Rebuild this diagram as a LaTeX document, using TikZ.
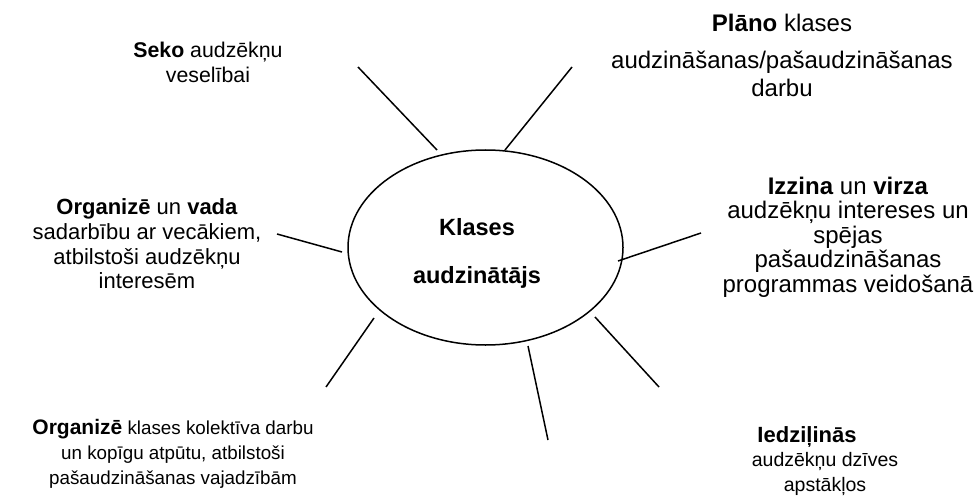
\documentclass[tikz,border=0pt]{standalone}
\usepackage{fontspec}
\setmainfont{Liberation Sans}
\usetikzlibrary{shapes.geometric}
\newcommand{\fs}[2]{\fontsize{#1}{#2}\selectfont}
\begin{document}
\begin{tikzpicture}[x=1pt,y=-1pt,
  lbl/.style={align=center,inner sep=0pt},
  spoke/.style={draw,line width=1.5pt},
  hub/.style={draw,ellipse,line width=1.5pt,minimum width=275pt,minimum height=195pt,inner sep=0pt}]
\useasboundingbox (0,0) rectangle (979,497);

% central ellipse and its title
\node[hub] (hub) at (485.5,247.5) {};
\node[lbl,font=\bfseries\fs{23.5}{28}] (t1) at (477,227) {Klases};
\node[lbl,font=\bfseries\fs{23.5}{28}] (t2) at (477,277) {audzinātājs};

% surrounding captions
\node[lbl,font=\fs{21.3}{25}] (seko) at (208,62) {\textbf{Seko} audzēkņu\\veselībai};
\node[lbl,font=\fs{24}{28}] (plano1) at (782,23) {\textbf{Plāno} klases};
\node[lbl,font=\fs{24}{28}] (plano2) at (782,74) {audzināšanas/pašaudzināšanas\\darbu};
\node[lbl,font=\fs{24}{24.5}] (izzina) at (848,237) {\textbf{Izzina} un \textbf{virza}\\audzēkņu intereses un\\spējas\\pašaudzināšanas\\programmas veidošanā};
\node[lbl,font=\fs{22}{24.7}] (vada) at (147,244) {\textbf{Organizē} un \textbf{vada}\\sadarbību ar vecākiem,\\atbilstoši audzēkņu\\interesēm};
\node[lbl,font=\fs{18.8}{25}] (kolektivs) at (173,454) {{\fs{21}{25}\textbf{Organizē}} klases kolektīva darbu\\un kopīgu atpūtu, atbilstoši\\pašaudzināšanas vajadzībām};
\node[lbl,font=\fs{19.5}{24.5}] (iedz) at (825,461) {{\fs{22}{24.5}\textbf{Iedziļinās}}\hspace*{36pt}\\audzēkņu dzīves\\apstākļos};

% spoke end points
\coordinate (a1) at (358,67);  \coordinate (a2) at (437,150);
\coordinate (b1) at (572,67);  \coordinate (b2) at (505,150);
\coordinate (c1) at (277,234); \coordinate (c2) at (342,252);
\coordinate (d1) at (701,233); \coordinate (d2) at (618,261);
\coordinate (e1) at (326,387); \coordinate (e2) at (374,318);
\coordinate (f1) at (548,440); \coordinate (f2) at (528,346);
\coordinate (g1) at (659,387); \coordinate (g2) at (595,317);

\draw[spoke] (a1) -- (a2);
\draw[spoke] (b1) -- (b2);
\draw[spoke] (c1) -- (c2);
\draw[spoke] (d1) -- (d2);
\draw[spoke] (e1) -- (e2);
\draw[spoke] (f1) -- (f2);
\draw[spoke] (g1) -- (g2);
\end{tikzpicture}
\end{document}
